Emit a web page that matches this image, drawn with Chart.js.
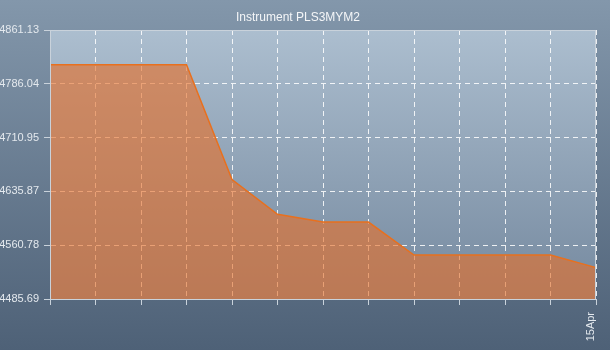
<!DOCTYPE html>
<html>
<head>
<meta charset="utf-8">
<script src="https://cdn.jsdelivr.net/npm/chart.js@4/dist/chart.umd.min.js"></script>
<style>
  html, body { margin: 0; padding: 0; background: #6a7e94; }
  #wrap { width: 610px; height: 350px; }
</style>
</head>
<body>
<div id="wrap"><canvas id="grafico" width="610" height="350"></canvas></div>
<script>
const titulo = 'Instrument PLS3MYM2'
const etiquetas = ['', '', '', '', '', '', '', '', '', '', '', '', '15Apr']
const valores = [4812.5, 4812.5, 4812.5, 4812.5, 4652.5, 4604.0, 4593.0, 4593.0, 4547.0, 4547.0, 4547.0, 4547.0, 4529.5]
const ticks_y = [4485.69, 4560.78, 4635.87, 4710.95, 4786.04, 4861.13]

const fondo = {
  id: 'fondo',
  beforeDraw(chart) {
    const ctx = chart.ctx
    const a = chart.chartArea
    ctx.save()
    let g = ctx.createLinearGradient(0, 0, 0, chart.height)
    g.addColorStop(0, '#8397ab')
    g.addColorStop(1, '#4e6177')
    ctx.fillStyle = g
    ctx.fillRect(0, 0, chart.width, chart.height)
    g = ctx.createLinearGradient(0, a.top, 0, a.bottom)
    g.addColorStop(0, '#acbecf')
    g.addColorStop(1, '#75899f')
    ctx.fillStyle = g
    ctx.fillRect(a.left, a.top, a.right - a.left, a.bottom - a.top)
    ctx.restore()
  },
  afterDatasetsDraw(chart) {
    const ctx = chart.ctx
    const a = chart.chartArea
    ctx.save()
    ctx.strokeStyle = '#c9d2db'
    ctx.lineWidth = 1
    ctx.strokeRect(a.left + 0.5, a.top + 0.5, a.right - a.left - 1, a.bottom - a.top)
    ctx.restore()
  }
}

window.addEventListener('load', () => {
  Chart.defaults.font.family = 'Liberation Sans'
  Chart.defaults.font.size = 11
  new Chart(document.getElementById('grafico'), {
    type: 'line',
    data: {
      labels: etiquetas,
      datasets: [{
        data: valores,
        borderColor: '#e8701e',
        borderWidth: 1.5,
        backgroundColor: 'rgba(230, 112, 40, 0.62)',
        fill: 'start',
        tension: 0,
        pointRadius: 0
      }]
    },
    options: {
      responsive: false,
      animation: false,
      layout: { padding: { left: 0, right: 14, top: 0, bottom: 0 } },
      plugins: {
        legend: { display: false },
        tooltip: { enabled: false },
        title: {
          display: true,
          text: titulo,
          color: '#f4f6f8',
          font: { size: 12, weight: 'normal' },
          padding: { top: 10, bottom: 5.6 }
        }
      },
      scales: {
        x: {
          offset: false,
          afterFit: (s) => { s.height = 51; s.paddingLeft = 0; s.paddingRight = 0 },
          grid: {
            color: 'rgba(255,255,255,0.85)',
            tickBorderDash: [],
            tickColor: '#c9d2db',
            tickLength: 6
          },
          border: { display: true, color: '#c9d2db', dash: [5, 4] },
          ticks: {
            autoSkip: false,
            minRotation: 90,
            maxRotation: 90,
            padding: 7,
            labelOffset: -5,
            color: '#e4e9ee'
          }
        },
        y: {
          min: ticks_y[0],
          max: ticks_y[ticks_y.length - 1],
          afterFit: (s) => { s.width = 50; s.paddingTop = 0; s.paddingBottom = 0 },
          afterBuildTicks: (s) => { s.ticks = ticks_y.map(v => ({ value: v })) },
          grid: {
            color: 'rgba(255,255,255,0.85)',
            tickBorderDash: [],
            tickColor: '#c9d2db',
            tickLength: 6
          },
          border: { display: true, color: '#c9d2db', dash: [5, 4] },
          ticks: {
            padding: 5,
            color: '#e4e9ee',
            callback: (v) => Number(v).toFixed(2)
          }
        }
      }
    },
    plugins: [fondo]
  })
})
</script>
</body>
</html>
